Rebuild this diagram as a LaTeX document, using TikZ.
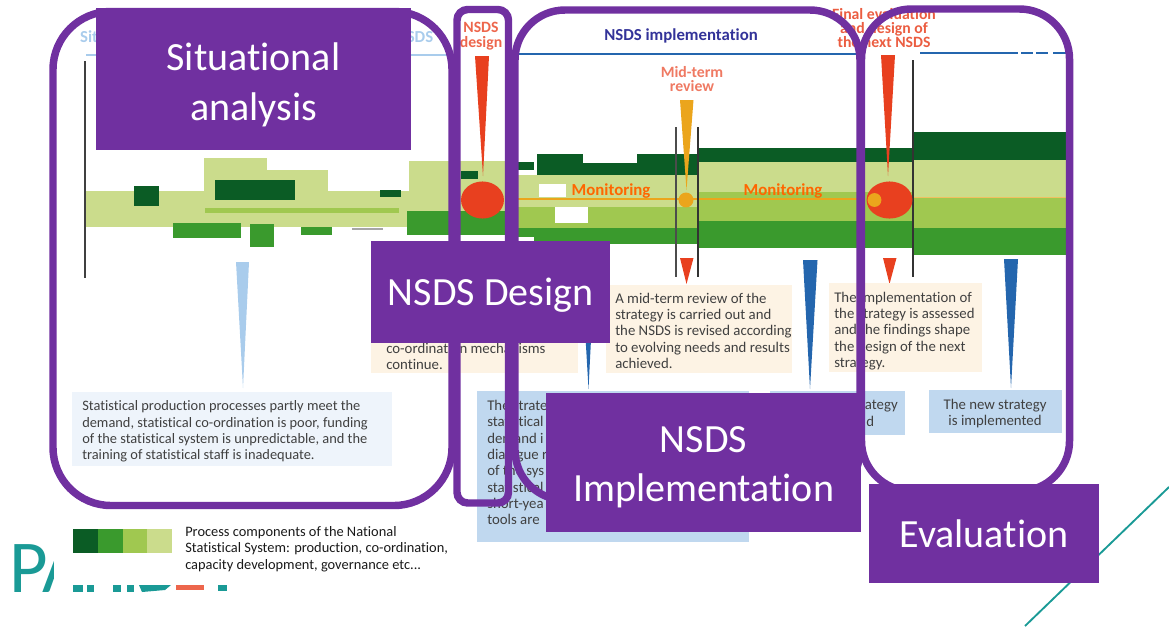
\documentclass[tikz,border=0pt]{standalone}
\usepackage{fontspec}
\setmainfont[Ligatures=NoCommon]{Carlito}
\usepackage{xcolor}
\usetikzlibrary{positioning,calc}
\definecolor{framepurple}{HTML}{7030A0}
\definecolor{darkgreen}{HTML}{0B5C25}
\definecolor{midgreen}{HTML}{3A9A2D}
\definecolor{lightgreen}{HTML}{A0C850}
\definecolor{palegreen}{HTML}{CBDC8C}
\definecolor{wedgered}{HTML}{E8401F}
\definecolor{wedgeorange}{HTML}{EBA51C}
\definecolor{wedgeblue}{HTML}{2466AE}
\definecolor{paleblue}{HTML}{A9CCEC}
\definecolor{boxblue}{HTML}{C0D8EF}
\definecolor{boxpale}{HTML}{EEF4FB}
\definecolor{boxcream}{HTML}{FDF3E4}
\definecolor{teal}{HTML}{1A9A96}
\tikzset{
	frame/.style={draw=framepurple,line width=5.6pt},
	phase/.style={fill=framepurple,text=white,align=center,inner sep=0pt,
		font=\fontsize{30}{36.8}\selectfont},
	body/.style={align=left,inner sep=0pt,anchor=north west,text=black!75,
		font=\fontsize{11.1}{12.25}\selectfont},
	head/.style={align=center,inner sep=0pt,font=\fontsize{12.6}{10.2}\selectfont\bfseries},
	headtwo/.style={head,font=\fontsize{11.8}{10.8}\selectfont\bfseries},
	wedge/.style={fill=#1,draw=none}
}

\begin{document}
\begin{tikzpicture}[x=0.75pt,y=-0.75pt]
\useasboundingbox (0,0) rectangle (1169,626);

% teal line at the slide corner
\coordinate (cornera) at (1169,487);
\coordinate (cornerb) at (1025,626);
\draw[teal,line width=1.4pt] (cornera) -- (cornerb);

% timeline
\fill[palegreen] (85,191) rectangle (513,227);
\fill[palegreen] (204,158) rectangle (267,191);
\fill[palegreen] (267,170) rectangle (328,191);
\fill[palegreen] (409,161) rectangle (513,227);
\fill[darkgreen] (134,186) rectangle (159,206);
\fill[darkgreen] (215,180) rectangle (295,200);
\fill[darkgreen] (380,190) rectangle (401,197);
\fill[lightgreen] (205,208) rectangle (399,213);
\fill[midgreen] (173,223) rectangle (241,238);
\fill[midgreen] (250,224) rectangle (274,247);
\fill[midgreen] (301,227) rectangle (332,235);
\fill[black!35] (352,228) rectangle (383,230);
\fill[midgreen] (407,211) rectangle (513,235);
\fill[darkgreen] (461,171) rectangle (478,179);

\fill[palegreen] (513,175) rectangle (697,207);
\fill[lightgreen] (513,207) rectangle (697,228);
\fill[midgreen] (513,228) rectangle (534,237);
\fill[midgreen] (534,228) rectangle (697,244);
\fill[darkgreen] (513,162) rectangle (534,170);
\fill[darkgreen] (537,154) rectangle (583,175);
\fill[darkgreen] (583,163) rectangle (637,175);
\fill[darkgreen] (637,154) rectangle (697,175);
\fill[white] (539,184) rectangle (566,197);
\fill[white] (555,207) rectangle (588,223);

\fill[darkgreen] (697,148) rectangle (913,162);
\fill[palegreen] (697,162) rectangle (913,192);
\fill[lightgreen] (697,192) rectangle (913,221);
\fill[midgreen] (697,221) rectangle (913,248);
\fill[darkgreen] (913,132) rectangle (1066,160);
\fill[palegreen] (913,160) rectangle (1066,197);
\fill[lightgreen] (913,197) rectangle (1066,228);
\fill[midgreen] (913,228) rectangle (1066,255);

\draw[wedgeorange,line width=1.2pt] (513,199) -- (857,199);
\draw[wedgeorange!70,line width=1.2pt] (913,197.5) -- (1066,197.5);

% vertical markers
\draw[black!75,line width=1.5pt] (85,61) -- (85,278);
\draw[black!70,line width=1.5pt] (676,127) -- (676,277);
\draw[black!80,line width=1.5pt] (697.5,127) -- (697.5,277);
\draw[black!80,line width=1.5pt] (913,60) -- (913,277);

% period bars
\draw[paleblue,line width=1.8pt] (86,55) -- (453,55);
\draw[wedgeblue,line width=1.8pt] (513,54) -- (857,54);
\draw[wedgeblue,line width=1.8pt] (920,53) -- (1018,53);
\draw[wedgeblue,line width=1.8pt] (1021,53) -- (1033,53);
\draw[wedgeblue,line width=1.8pt] (1036,53) -- (1048,53);
\draw[wedgeblue,line width=1.8pt] (1053,53) -- (1066,53);

% wedges and events
\fill[wedge=wedgered] (475,56) -- (489,56) -- (483,176) -- cycle;
\fill[wedge=wedgeorange] (680,100) -- (693.5,100) -- (686.5,190) -- cycle;
\fill[wedge=wedgered] (881,55) -- (895,55) -- (888,176) -- cycle;
\fill[wedge=wedgered] (680,258) -- (693.5,258) -- (686.5,284) -- cycle;
\fill[wedge=wedgered] (883,258) -- (896.5,258) -- (889.5,284) -- cycle;
\fill[wedge=paleblue] (236,262) -- (249,262) -- (243,388) -- cycle;
\fill[wedge=wedgeblue] (581,260) -- (595,260) -- (588.5,389) -- cycle;
\fill[wedge=wedgeblue] (803,260) -- (817.5,260) -- (810,389) -- cycle;
\fill[wedge=wedgeblue] (1004,259) -- (1018,259) -- (1011,388) -- cycle;

\fill[wedgered] (482.5,200) ellipse [x radius=16.1pt,y radius=13.9pt];
\fill[wedgered] (889.5,200) ellipse [x radius=17.2pt,y radius=13.9pt];
\fill[wedgeorange] (686,200) circle [radius=5.6pt];
\fill[wedgeorange] (874.5,200) circle [radius=5.2pt];

% boxes
\fill[boxpale] (71.5,392) rectangle (392,466);
\fill[boxcream] (371,285) rectangle (578,373);
\fill[boxcream] (606,285) rectangle (792,373);
\fill[boxcream] (829,283) rectangle (981.5,372);
\fill[boxblue] (477,391) rectangle (748.5,541.5);
\fill[boxblue] (770,391) rectangle (905,435);
\fill[boxblue] (929,390) rectangle (1062,433);

% headings
\node[head,text=paleblue] (sita) at (89,37) {Sit};
\node[head,text=paleblue] (sitb) at (420,37) {SDS};
\node[headtwo,text=wedgered!80] (designhead) at (481,36) {NSDS\\design};
\node[head,text=blue!50!black!80] (implhead) at (681,36) {NSDS implementation};
\node[headtwo,text=wedgered!70] (midhead) at (692,79) {Mid-term\\review};
\node[headtwo,text=wedgered!85] (finalhead) at (884,28) {Final evaluation\\and design of\\the next NSDS};
\node[head,text=orange!80!red] (monitora) at (611,191) {Monitoring};
\node[head,text=orange!80!red] (monitorb) at (783,191) {Monitoring};

% body texts
\node[body,font=\fontsize{10.8}{12.25}\selectfont] (situationtext) at (82,400.5) {Statistical production processes partly meet the\\demand, statistical co-ordination is poor, funding\\of the statistical system is unpredictable, and the\\training of statistical staff is inadequate.};
\node[body] (designtext) at (386,343) {co-ordination mechanisms\\continue.};
\node[body] (midtext) at (615,292.5) {A mid-term review of the\\strategy is carried out and\\the NSDS is revised according\\to evolving needs and results\\achieved.};
\node[body] (finaltext) at (834,291.5) {The implementation of\\the strategy is assessed\\and the findings shape\\the design of the next\\strategy.};
\node[body] (stratega) at (487,400) {The strategy\\statistical\\demand i\\dialogue r\\of the sys\\statistical\\short-yea\\tools are};
\node[body,anchor=north east] (strategb) at (898,400) {strategy\\\phantom{strategy}};
\node[body,anchor=north west] (strategc) at (866,416) {d};
\node[body,align=center,anchor=north] (strategd) at (995,399) {The new strategy\\is implemented};

% legend
\fill[darkgreen] (73,529) rectangle (98,553);
\fill[midgreen] (98,529) rectangle (123,553);
\fill[lightgreen] (123,529) rectangle (147,553);
\fill[palegreen] (147,529) rectangle (172,553);
\node[body,text=black!90,font=\fontsize{10.8}{12.1}\selectfont] (legend) at (185,526.5) {Process components of the National\\Statistical System: production, co-ordination,\\capacity development, governance etc...};

% logo
\begin{scope}
\clip (0,540) rectangle (53,600);
\node[anchor=base west,inner sep=0pt,text=teal,font=\fontsize{56}{56}\selectfont] (logo) at (9,592) {PA};
\end{scope}
\fill[teal] (73,585) rectangle (83,592);
\fill[teal] (87,585) rectangle (94,592);
\fill[teal] (113,585) rectangle (121,592);
\fill[teal] (127,585) rectangle (134,592);
\fill[teal] (139,585) -- (171,585) -- (165,590) -- (142,592) -- cycle;
\fill[wedgered!80] (176,585) rectangle (204,590);
\fill[teal] (218,585) rectangle (227,591);

% phase frames
\draw[frame,rounded corners=43.5pt] (53,11.5) rectangle (452,505.5);
\draw[frame,rounded corners=8pt] (457,9.5) rectangle (508.5,503);
\draw[frame,rounded corners=37.5pt] (515,10) rectangle (860,500);
\draw[frame,rounded corners=37.5pt] (861.5,9) rectangle (1069.5,491);

% phase labels
\node[phase,text height=84pt,text depth=22.5pt,minimum width=236.25pt] (situation) at (253.5,79) {Situational\\analysis};
\node[phase,text height=48pt,text depth=28.5pt,minimum width=179.25pt] (design) at (490.5,292) {NSDS Design};
\node[phase,text height=82pt,text depth=22.25pt,minimum width=236.25pt] (implementation) at (703.5,462) {NSDS\\Implementation};
\node[phase,minimum width=172.9pt,minimum height=74.25pt] (evaluation) at (984,533.5) {Evaluation};
\end{tikzpicture}
\end{document}
